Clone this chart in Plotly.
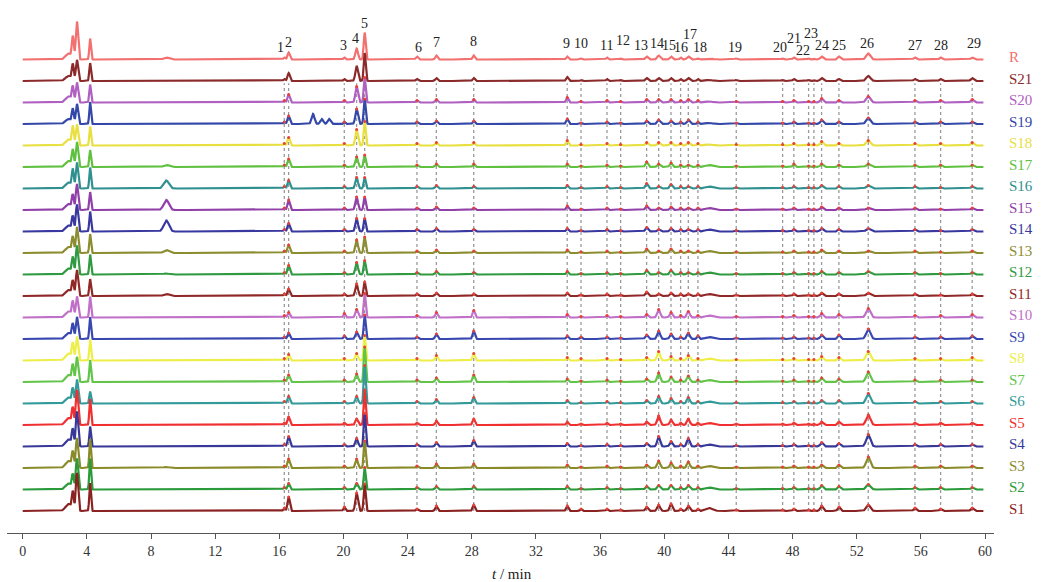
import numpy as np
import plotly.graph_objects as go

# ---------------- data ----------------
NAMES = ["S1", "S2", "S3", "S4", "S5", "S6", "S7", "S8", "S9", "S10", "S11",
         "S12", "S13", "S14", "S15", "S16", "S17", "S18", "S19", "S20", "S21", "R"]

COLORS = ["#8B2222", "#2A9A3A", "#8A8A28", "#383898", "#F03030", "#339999", "#62C448",
          "#EEEE48", "#3848B0", "#C070C8", "#902828", "#309A40", "#8C8C30", "#3838A0",
          "#9040A8", "#309090", "#60C040", "#E8E040", "#3348A8", "#B060C0", "#8B2A2A",
          "#F27070"]

PEAK_NO = [str(i) for i in range(1, 30)]
PEAK_T = [16.31, 16.58, 20.05, 20.82, 21.32, 24.58, 25.79, 28.12, 33.95, 34.81,
          36.43, 37.28, 38.90, 39.65, 40.42, 41.02, 41.50, 42.10, 44.49, 47.38,
          48.08, 49.00, 49.33, 49.81, 50.89, 52.72, 55.63, 57.23, 59.20]
PEAK_SIGMA = [0.06, 0.07, 0.06, 0.08, 0.06, 0.07, 0.07, 0.07, 0.07, 0.06, 0.06, 0.06,
              0.08, 0.09, 0.08, 0.06, 0.09, 0.06, 0.07, 0.06, 0.07, 0.06, 0.06, 0.09,
              0.08, 0.13, 0.08, 0.08, 0.09]

# heights of the 29 common peaks in each sample (arbitrary units; trace spacing = 21.5)
H_S1 = [3, 14, 4, 18, 27, 2, 5, 6, 5, 2, 2, 1, 4, 6, 7, 2, 5, 2, 1, 1, 2, 1, 1, 5, 4, 6, 3, 2, 3]
H_S2 = [2, 6, 2, 6, 22, 2, 3, 3, 3, 1, 2, 1, 3, 4, 4, 2, 4, 2, 1, 1, 2, 1, 1, 4, 3, 5, 2, 2, 2]
H_S3 = [2, 9, 2, 9, 27, 2, 4, 4, 3, 1, 2, 1, 3, 7, 5, 2, 6, 2, 1, 1, 2, 1, 1, 3, 3, 11, 2, 2, 2]
H_S4 = [2, 10, 2, 8, 33, 2, 4, 6, 3, 1, 2, 1, 3, 10, 5, 2, 8, 2, 1, 1, 2, 1, 1, 4, 3, 12, 2, 2, 2]
H_S5 = [2, 8, 2, 6, 35, 2, 4, 6, 3, 1, 2, 1, 3, 9, 5, 2, 6, 2, 1, 1, 2, 1, 1, 3, 3, 10, 2, 2, 2]
H_S6 = [2, 7, 2, 7, 38, 2, 4, 6, 3, 1, 2, 1, 3, 7, 5, 2, 6, 2, 1, 1, 2, 1, 1, 3, 3, 10, 2, 2, 2]
H_S7 = [2, 7, 2, 8, 35, 2, 4, 7, 3, 1, 2, 1, 3, 9, 5, 2, 6, 2, 1, 1, 2, 1, 1, 4, 3, 10, 2, 2, 2]
H_S8 = [2, 6, 2, 7, 25, 2, 5, 7, 3, 2, 2, 1, 3, 9, 4, 2, 5, 2, 1, 1, 2, 1, 1, 4, 3, 9, 2, 2, 3]
H_S9 = [2, 6, 3, 7, 24, 2, 5, 8, 3, 2, 2, 1, 4, 8, 5, 2, 6, 3, 1, 1, 2, 1, 1, 4, 4, 10, 2, 2, 3]
H_S10 = [2, 5, 4, 8, 24, 2, 5, 7, 3, 1, 2, 1, 3, 8, 5, 2, 6, 2, 1, 1, 2, 1, 1, 4, 3, 9, 2, 2, 3]
H_S11 = [2, 7, 2, 12, 14, 2, 3, 2, 3, 1, 2, 1, 4, 2, 3, 2, 2, 2, 1, 1, 2, 1, 1, 3, 2, 3, 2, 1, 2]
H_S12 = [2, 9, 2, 12, 14, 2, 3, 2, 3, 1, 2, 1, 4, 2, 4, 2, 2, 2, 1, 1, 2, 1, 1, 3, 2, 3, 2, 1, 2]
H_S13 = [2, 8, 2, 13, 16, 2, 3, 2, 3, 1, 2, 1, 4, 2, 4, 2, 2, 2, 1, 1, 2, 1, 1, 3, 2, 2, 2, 1, 2]
H_S14 = [2, 8, 2, 13, 13, 2, 3, 2, 3, 1, 2, 1, 4, 2, 3, 2, 2, 2, 1, 1, 2, 1, 1, 3, 2, 3, 2, 1, 2]
H_S15 = [2, 10, 2, 13, 13, 2, 3, 2, 4, 1, 2, 1, 4, 2, 3, 2, 2, 2, 1, 1, 2, 1, 1, 3, 2, 2, 2, 1, 2]
H_S16 = [2, 8, 2, 11, 11, 2, 3, 2, 3, 1, 2, 1, 5, 2, 4, 2, 2, 2, 1, 1, 2, 1, 1, 3, 2, 3, 2, 1, 2]
H_S17 = [2, 8, 2, 10, 12, 2, 3, 3, 3, 1, 2, 1, 5, 3, 4, 2, 2, 2, 1, 1, 3, 1, 1, 3, 2, 3, 2, 2, 2]
H_S18 = [2, 8, 2, 16, 24, 2, 3, 3, 5, 1, 2, 1, 3, 3, 3, 2, 3, 2, 1, 1, 2, 1, 1, 4, 2, 5, 2, 2, 3]
H_S19 = [2, 8, 2, 15, 25, 2, 3, 3, 5, 1, 2, 1, 3, 4, 3, 2, 4, 2, 1, 1, 2, 1, 1, 4, 2, 6, 2, 2, 2]
H_S20 = [2, 8, 2, 16, 25, 2, 3, 3, 5, 1, 2, 1, 3, 3, 3, 2, 3, 2, 1, 1, 2, 1, 1, 4, 2, 6, 2, 2, 3]
H_S21 = [2, 8, 2, 15, 28, 2, 3, 3, 4, 1, 2, 1, 3, 3, 3, 2, 3, 2, 1, 1, 2, 1, 1, 3, 2, 5, 2, 2, 3]
H_R = [2, 7, 2, 11, 27, 3, 4, 4, 3, 1, 2, 1, 3, 4, 3, 2, 3, 1, 1, 1, 2, 1, 1, 3, 3, 6, 2, 2, 2]
HEIGHTS = [H_S1, H_S2, H_S3, H_S4, H_S5, H_S6, H_S7, H_S8, H_S9, H_S10, H_S11, H_S12,
           H_S13, H_S14, H_S15, H_S16, H_S17, H_S18, H_S19, H_S20, H_S21, H_R]

# early (solvent-front) cluster: times, widths and per-sample heights
EARLY_T = [2.85, 3.12, 3.38, 4.20]
EARLY_SIGMA = [0.18, 0.06, 0.07, 0.05]
EARLY_H = [[7, 18, 38, 28], [6, 14, 31, 31], [7, 15, 30, 29], [7, 16, 35, 20],
           [7, 16, 35, 26], [6, 14, 24, 12], [7, 16, 25, 22], [7, 16, 24, 21],
           [6, 14, 22, 22], [6, 15, 21, 21], [6, 14, 26, 17], [6, 16, 29, 20],
           [6, 15, 26, 19], [6, 14, 27, 20], [6, 14, 26, 18], [6, 18, 26, 21],
           [6, 16, 25, 17], [6, 18, 21, 19], [5, 14, 20, 22], [6, 15, 20, 18],
           [5, 16, 21, 18], [6, 22, 38, 21]]

# broad peak near 9 min
NINE_T = 8.95
NINE_SIGMA = 0.16
NINE_H = [0, 0, 1, 0, 0, 0, 0, 0, 0, 0, 2, 1, 3, 11, 10, 8, 2, 0, 0, 0, 0, 2]

# extra peaks only in S19
S19_EXTRA_T = [18.10, 18.65, 19.10]
S19_EXTRA_H = [10, 5, 5]

# broad hump around 42.8 min
HUMP_T = 42.8
HUMP_H = [3, 2, 2, 2, 2, 2, 2, 2, 2, 2, 2, 2, 2, 2, 2, 2, 2, 1, 1, 1, 1, 1]

SPACING = 21.5

# peak-number label positions (layout only)
LABEL_X = [16.10, 16.57, 19.97, 20.72, 21.34, 24.65, 25.77, 28.08, 33.92, 34.81,
           36.37, 37.40, 38.53, 39.53, 40.31, 41.06, 41.60, 42.23, 44.41, 47.21,
           48.08, 48.63, 49.13, 49.85, 50.89, 52.66, 55.63, 57.23, 59.31]
LABEL_Y = [464, 469, 466, 473, 488, 464, 469, 470, 468, 468, 466, 471, 466, 468, 466,
           464, 477, 464, 464, 464, 473, 461, 478, 466, 466, 468, 466, 466, 468]

# ---------------- build figure ----------------
t = np.linspace(0, 59.9, 6000)


def gauss(center, sigma, height):
    return height * np.exp(-0.5 * ((t - center) / sigma) ** 2)


fig = go.Figure()

# dotted reference lines
for pt in PEAK_T:
    fig.add_shape(type="line", x0=pt, x1=pt, y0=0, y1=SPACING * 19.9,
                  line=dict(color="#9a9a9a", width=1.3, dash="dot"), layer="below")

# traces: top (R) first, S1 last so lower traces sit on top
for i in reversed(range(len(NAMES))):
    base = i * SPACING
    y = np.zeros_like(t)
    for et, es, eh in zip(EARLY_T, EARLY_SIGMA, EARLY_H[i]):
        y += gauss(et, es, eh)
    y += gauss(NINE_T, NINE_SIGMA, NINE_H[i])
    y += gauss(HUMP_T, 0.22, HUMP_H[i])
    for pt, ps, ph in zip(PEAK_T, PEAK_SIGMA, HEIGHTS[i]):
        y += gauss(pt, ps, ph)
    if NAMES[i] == "S19":
        for et, eh in zip(S19_EXTRA_T, S19_EXTRA_H):
            y += gauss(et, 0.09, eh)
    fig.add_trace(go.Scatter(x=t, y=y + base, mode="lines", name=NAMES[i],
                             line=dict(color=COLORS[i], width=2.2),
                             showlegend=False, hoverinfo="skip"))

# red peak markers on S1..S20
mx, my = [], []
for i in range(20):
    for pt, ph in zip(PEAK_T, HEIGHTS[i]):
        mx.append(pt)
        my.append(i * SPACING + ph)
fig.add_trace(go.Scatter(x=mx, y=my, mode="markers",
                         marker=dict(color="#E84038", size=3),
                         showlegend=False, hoverinfo="skip"))

SERIF = "Liberation Serif, Times New Roman, serif"
ann = []
for lab, lx, ly in zip(PEAK_NO, LABEL_X, LABEL_Y):
    ann.append(dict(x=lx, y=ly, xref="x", yref="y", text=lab, showarrow=False,
                    font=dict(family=SERIF, size=14, color="#222222"),
                    xanchor="center", yanchor="middle"))
for i, nm in enumerate(NAMES):
    ann.append(dict(x=(1007 - 7) / 987, y=i * SPACING + 2.5, xref="paper", yref="y",
                    text=nm, showarrow=False, xanchor="left", yanchor="middle",
                    font=dict(family=SERIF, size=15, color=COLORS[i])))
ann.append(dict(x=(512 - 7) / 987, y=(533 - 574) / 528, xref="paper", yref="paper",
                text="<i>t</i> / min", showarrow=False, xanchor="center",
                yanchor="middle", font=dict(family=SERIF, size=15, color="#222222")))

fig.update_layout(
    width=1059, height=582,
    margin=dict(l=7, r=65, t=5, b=49),
    paper_bgcolor="white", plot_bgcolor="white",
    annotations=ann,
    xaxis=dict(range=[-0.98, 60.56], tickmode="array",
               tickvals=list(range(0, 61, 4)), ticks="outside", ticklen=5,
               tickcolor="#555555", showline=True, linecolor="#555555", linewidth=1,
               showgrid=False, zeroline=False,
               tickfont=dict(family=SERIF, size=14, color="#333333")),
    yaxis=dict(range=[-22, 506], visible=False, showgrid=False, zeroline=False),
)

fig.write_html("out.html")
